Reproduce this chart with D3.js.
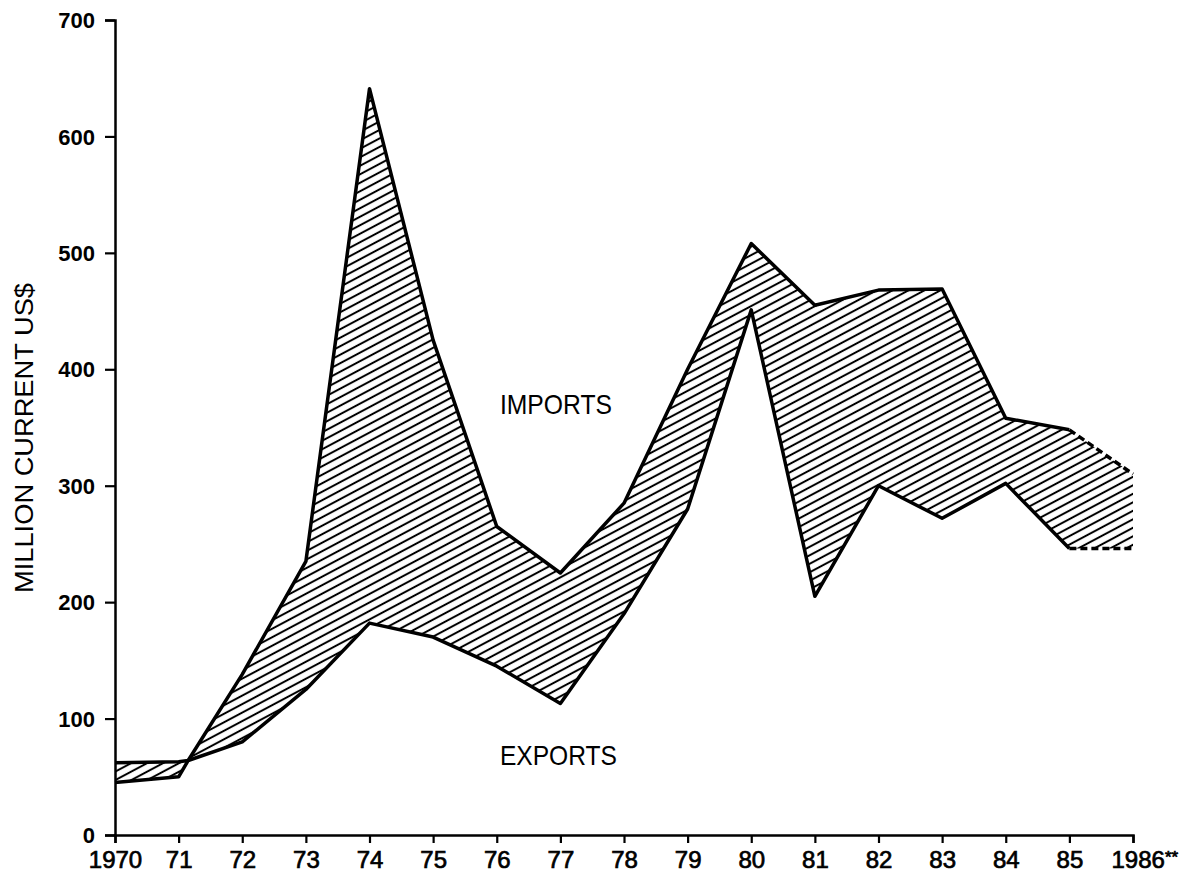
<!DOCTYPE html>
<html>
<head>
<meta charset="utf-8">
<script src="https://cdn.jsdelivr.net/npm/d3@7"></script>
<style>
  body { margin: 0; background: #fff; }
  svg { display: block; }
</style>
</head>
<body>
<div id="chart"></div>
<script>
// years (1971.15 is where the two lines pinch together just after 71)
var years   = [1970, 1971, 1971.15, 1972, 1973, 1974, 1975, 1976, 1977, 1978, 1979, 1980, 1981, 1982, 1983, 1984, 1985, 1986];
var imports = [62, 63, 64, 138, 235, 641, 425, 265, 225, 285, 400, 508, 455, 468, 469, 358, 348, 310];
var exports = [45, 50, 64, 80, 125, 182, 170, 145, 113, 190, 280, 451, 205, 300, 272, 302, 246, 246];
// last year is an estimate, drawn dashed
var lastSolidYear = 1985;

var xTicks = [1970, 1971, 1972, 1973, 1974, 1975, 1976, 1977, 1978, 1979, 1980, 1981, 1982, 1983, 1984, 1985, 1986];
var xTickLabels = ["1970", "71", "72", "73", "74", "75", "76", "77", "78", "79", "80", "81", "82", "83", "84", "85", "1986"];
var yTicks = [0, 100, 200, 300, 400, 500, 600, 700];

var width = 1183, height = 877;
var margin = {top: 20, right: 50, bottom: 42, left: 115};
var w = width - margin.left - margin.right;
var h = height - margin.top - margin.bottom;

var svg = d3.select("#chart").append("svg")
    .attr("width", width)
    .attr("height", height)
    .style("font-family", "'Liberation Sans', Arial, sans-serif");

var defs = svg.append("defs");
var pat = defs.append("pattern")
    .attr("id", "hatch")
    .attr("patternUnits", "userSpaceOnUse")
    .attr("width", 8)
    .attr("height", 7.5)
    .attr("patternTransform", "rotate(-28)");
pat.append("line")
    .attr("x1", -1).attr("x2", 9)
    .attr("y1", 3.75).attr("y2", 3.75)
    .attr("stroke", "#000")
    .attr("stroke-width", 2);

var g = svg.append("g")
    .attr("transform", "translate(" + margin.left + "," + margin.top + ")");

var x = d3.scaleLinear().domain([1970, 1986]).range([0, w]);
var y = d3.scaleLinear().domain([0, 700]).range([h, 0]);

var rows = years.map(function(yr, i) { return {year: yr, imp: imports[i], exp: exports[i]}; });

// hatched band between the two series
g.append("path")
    .datum(rows)
    .attr("fill", "url(#hatch)")
    .attr("d", d3.area()
        .x(function(d) { return x(d.year); })
        .y0(function(d) { return y(d.exp); })
        .y1(function(d) { return y(d.imp); }));

function drawLine(key) {
  var solid = rows.filter(function(d) { return d.year <= lastSolidYear; });
  var est = rows.filter(function(d) { return d.year >= lastSolidYear; });
  var line = d3.line()
      .x(function(d) { return x(d.year); })
      .y(function(d) { return y(d[key]); });
  g.append("path").datum(solid)
      .attr("fill", "none").attr("stroke", "#000")
      .attr("stroke-width", 3.5).attr("stroke-linejoin", "round")
      .attr("d", line);
  g.append("path").datum(est)
      .attr("fill", "none").attr("stroke", "#000")
      .attr("stroke-width", 3.5).attr("stroke-dasharray", "7,4")
      .attr("d", line);
}
drawLine("imp");
drawLine("exp");

// axes
var yAxis = g.append("g")
    .call(d3.axisLeft(y).tickValues(yTicks).tickSize(10).tickPadding(10).tickFormat(d3.format("d")));
var xAxis = g.append("g")
    .attr("transform", "translate(0," + h + ")")
    .call(d3.axisBottom(x).tickValues(xTicks).tickSize(8).tickPadding(6)
      .tickFormat(function(d, i) { return xTickLabels[i]; }));

[yAxis, xAxis].forEach(function(ax) {
  ax.select(".domain").attr("stroke", "#000").attr("stroke-width", 2.5);
  ax.selectAll(".tick line").attr("stroke", "#000").attr("stroke-width", 2.2);
  ax.selectAll(".tick text")
      .attr("fill", "#000")
      .style("font-family", "'Liberation Sans', Arial, sans-serif")
      .style("font-size", "22px")
      .style("font-weight", "bold");
});
yAxis.selectAll(".tick text").attr("dy", "0.35em");
xAxis.selectAll(".tick text").attr("dy", "0.8em")
    .style("font-size", "24px").style("font-weight", "normal")
    .attr("stroke", "#000").attr("stroke-width", 0.7);

// asterisks on the last year
xAxis.selectAll(".tick").filter(function(d) { return d === 1986; }).select("text")
    .attr("text-anchor", "start")
    .attr("x", -22)
    .append("tspan")
    .attr("dy", "-0.3em")
    .style("font-size", "17px")
    .text("**");

// series labels
g.append("text")
    .attr("x", x(1976.05)).attr("y", y(362))
    .attr("textLength", 112).attr("lengthAdjust", "spacingAndGlyphs")
    .style("font-size", "28px")
    .text("IMPORTS");
g.append("text")
    .attr("x", x(1976.05)).attr("y", y(60))
    .attr("textLength", 117).attr("lengthAdjust", "spacingAndGlyphs")
    .style("font-size", "28px")
    .text("EXPORTS");

// y axis title
svg.append("text")
    .attr("transform", "translate(33,438) rotate(-90)")
    .attr("text-anchor", "middle")
    .attr("textLength", 310).attr("lengthAdjust", "spacingAndGlyphs")
    .style("font-size", "26px")
    .text("MILLION CURRENT US$");
</script>
</body>
</html>
